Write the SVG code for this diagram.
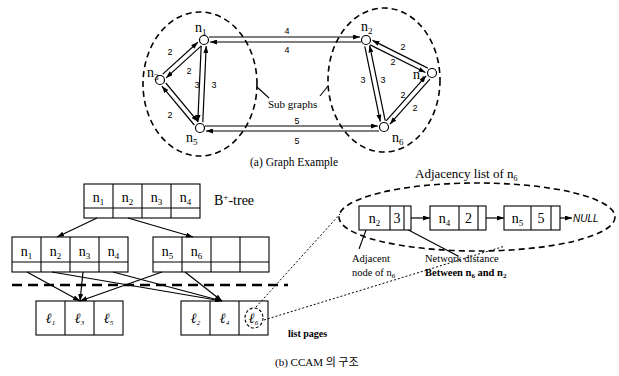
<svg xmlns="http://www.w3.org/2000/svg" width="619" height="376" viewBox="0 0 619 376">
<style>
.bg{fill:#fff}
.ln{stroke:#000;stroke-width:1.1;fill:none}
.ar{stroke:#000;stroke-width:1.2;fill:none;marker-end:url(#ah)}
.dash{stroke:#000;stroke-width:1.6;fill:none;stroke-dasharray:6 4}
.dot{stroke:#000;stroke-width:1;fill:none;stroke-dasharray:2 2}
.nd{fill:#fff;stroke:#000;stroke-width:1.2}
.box{fill:#fff;stroke:#000;stroke-width:1.1}
.w{font-family:"Liberation Sans",Arial,sans-serif;font-size:9px;fill:#000}
.s{font-family:"Liberation Serif","Times New Roman",serif;fill:#000}
.nl{font-family:"Liberation Serif","Times New Roman",serif;font-size:14px;fill:#000}
.lf{font-family:"Liberation Serif","DejaVu Serif",serif;font-size:14px;font-style:italic;fill:#000}
</style>
<defs>
<marker id="ah" markerUnits="userSpaceOnUse" markerWidth="7" markerHeight="5" refX="7" refY="2.5" orient="auto">
<path d="M0,0 L7,2.5 L0,5 z" fill="#000"/>
</marker>
</defs>
<rect class="bg" x="0" y="0" width="619" height="376"/>

<!-- (a) Graph -->
<g id="subgraph-left"><ellipse class="dash" cx="200" cy="84" rx="57" ry="72"/></g>
<g id="subgraph-right"><ellipse class="dash" cx="384" cy="80" rx="56" ry="72"/></g>

<g id="connectors-a">
<line class="ar" x1="209" y1="37" x2="360" y2="37"/>
<line class="ar" x1="361" y1="42" x2="210" y2="42"/>
<line class="ar" x1="205" y1="126" x2="378" y2="126"/>
<line class="ar" x1="379" y1="131" x2="206" y2="131"/>
<line class="ar" x1="162.7" y1="74.1" x2="197.9" y2="42.2"/>
<line class="ar" x1="201.3" y1="45.9" x2="166.1" y2="77.9"/>
<line class="ar" x1="165.8" y1="83" x2="198.1" y2="121.8"/>
<line class="ar" x1="194.3" y1="125" x2="161.9" y2="86.2"/>
<line class="ar" x1="201.2" y1="45.9" x2="197.8" y2="121.9"/>
<line class="ar" x1="202.8" y1="122.1" x2="206.2" y2="46.1"/>
<line class="ar" x1="364.8" y1="46.4" x2="380.3" y2="121.6"/>
<line class="ar" x1="385.2" y1="120.6" x2="369.6" y2="45.4"/>
<line class="ar" x1="427.8" y1="68.1" x2="372.5" y2="40.4"/>
<line class="ar" x1="370.2" y1="44.9" x2="425.5" y2="72.5"/>
<line class="ar" x1="386.1" y1="120.8" x2="426.1" y2="75.8"/>
<line class="ar" x1="429.9" y1="79.2" x2="389.9" y2="124.2"/>
<line class="ln" x1="257" y1="87" x2="269" y2="98"/>
<line class="ln" x1="328" y1="86" x2="320" y2="96"/>
</g>

<g id="weights">
<text class="w" x="287" y="34" text-anchor="middle">4</text>
<text class="w" x="287" y="53" text-anchor="middle">4</text>
<text class="w" x="297" y="124" text-anchor="middle">5</text>
<text class="w" x="297" y="144" text-anchor="middle">5</text>
<text class="w" x="170" y="55" text-anchor="middle">2</text>
<text class="w" x="189" y="74" text-anchor="middle">2</text>
<text class="w" x="170" y="118" text-anchor="middle">2</text>
<text class="w" x="197" y="88" text-anchor="middle">3</text>
<text class="w" x="214" y="88" text-anchor="middle">3</text>
<text class="w" x="363" y="83" text-anchor="middle">3</text>
<text class="w" x="383" y="83" text-anchor="middle">3</text>
<text class="w" x="403" y="50" text-anchor="middle">2</text>
<text class="w" x="393" y="65" text-anchor="middle">2</text>
<text class="w" x="403" y="98" text-anchor="middle">2</text>
<text class="w" x="415" y="111" text-anchor="middle">2</text>
</g>

<g id="n1"><circle class="nd" cx="204" cy="40" r="4.5"/><text class="nl" x="195" y="32" font-size="15">n<tspan font-size="9" dy="3">1</tspan></text></g>
<g id="n2"><circle class="nd" cx="366" cy="40" r="4.5"/><text class="nl" x="361" y="31" font-size="15">n<tspan font-size="9" dy="3">2</tspan></text></g>
<g id="n3"><circle class="nd" cx="160" cy="80" r="4.5"/><text class="nl" x="147" y="77" font-size="15">n<tspan font-size="9" dy="3">3</tspan></text></g>
<g id="n4"><circle class="nd" cx="432" cy="73" r="4.5"/><text class="nl" x="413" y="79" font-size="15">n<tspan font-size="9" dy="3">4</tspan></text></g>
<g id="n5"><circle class="nd" cx="200" cy="128" r="4.5"/><text class="nl" x="186" y="142" font-size="15">n<tspan font-size="9" dy="3">5</tspan></text></g>
<g id="n6"><circle class="nd" cx="384" cy="127" r="4.5"/><text class="nl" x="392" y="142" font-size="15">n<tspan font-size="9" dy="3">6</tspan></text></g>

<text class="s" x="268" y="108" font-size="11">Sub graphs</text>
<text class="s" x="250" y="166" font-size="11.5">(a) Graph Example</text>

<!-- (b) B+-tree -->
<g id="root">
<rect class="box" x="84" y="184" width="116" height="34"/>
<line class="ln" x1="84" y1="208" x2="200" y2="208"/>
<line class="ln" x1="113" y1="184" x2="113" y2="218"/>
<line class="ln" x1="142" y1="184" x2="142" y2="218"/>
<line class="ln" x1="171" y1="184" x2="171" y2="218"/>
<text class="nl" x="98.5" y="202" text-anchor="middle">n<tspan font-size="9" dy="3">1</tspan></text>
<text class="nl" x="127.5" y="202" text-anchor="middle">n<tspan font-size="9" dy="3">2</tspan></text>
<text class="nl" x="156.5" y="202" text-anchor="middle">n<tspan font-size="9" dy="3">3</tspan></text>
<text class="nl" x="185.5" y="202" text-anchor="middle">n<tspan font-size="9" dy="3">4</tspan></text>
</g>
<text class="s" x="214" y="205" font-size="14">B<tspan font-size="9" dy="-5">+</tspan><tspan dy="5">-tree</tspan></text>

<g id="child-left">
<rect class="box" x="12" y="237" width="116" height="35"/>
<line class="ln" x1="12" y1="262" x2="128" y2="262"/>
<line class="ln" x1="41" y1="237" x2="41" y2="272"/>
<line class="ln" x1="70" y1="237" x2="70" y2="272"/>
<line class="ln" x1="99" y1="237" x2="99" y2="272"/>
<text class="nl" x="26.5" y="256" text-anchor="middle">n<tspan font-size="9" dy="3">1</tspan></text>
<text class="nl" x="55.5" y="256" text-anchor="middle">n<tspan font-size="9" dy="3">2</tspan></text>
<text class="nl" x="84.5" y="256" text-anchor="middle">n<tspan font-size="9" dy="3">3</tspan></text>
<text class="nl" x="113.5" y="256" text-anchor="middle">n<tspan font-size="9" dy="3">4</tspan></text>
</g>
<g id="child-right">
<rect class="box" x="153" y="237" width="116" height="35"/>
<line class="ln" x1="153" y1="262" x2="269" y2="262"/>
<line class="ln" x1="182" y1="237" x2="182" y2="272"/>
<line class="ln" x1="211" y1="237" x2="211" y2="272"/>
<line class="ln" x1="240" y1="237" x2="240" y2="272"/>
<text class="nl" x="167.5" y="256" text-anchor="middle">n<tspan font-size="9" dy="3">5</tspan></text>
<text class="nl" x="196.5" y="256" text-anchor="middle">n<tspan font-size="9" dy="3">6</tspan></text>
</g>

<line x1="12" y1="285" x2="288" y2="285" stroke="#000" stroke-width="2.5" stroke-dasharray="10 6"/>

<g id="leaf-left">
<rect class="box" x="36" y="301" width="87" height="34"/>
<line class="ln" x1="65" y1="301" x2="65" y2="335"/>
<line class="ln" x1="94" y1="301" x2="94" y2="335"/>
<text class="lf" x="50.5" y="323" text-anchor="middle">ℓ<tspan font-size="7" dy="2">1</tspan></text>
<text class="lf" x="79.5" y="323" text-anchor="middle">ℓ<tspan font-size="7" dy="2">3</tspan></text>
<text class="lf" x="108.5" y="323" text-anchor="middle">ℓ<tspan font-size="7" dy="2">5</tspan></text>
</g>
<g id="leaf-right">
<rect class="box" x="181" y="301" width="87" height="34"/>
<line class="ln" x1="210" y1="301" x2="210" y2="335"/>
<line class="ln" x1="239" y1="301" x2="239" y2="335"/>
<text class="lf" x="195.5" y="323" text-anchor="middle">ℓ<tspan font-size="7" dy="2">2</tspan></text>
<text class="lf" x="224.5" y="323" text-anchor="middle">ℓ<tspan font-size="7" dy="2">4</tspan></text>
<text class="lf" x="253.5" y="323" text-anchor="middle">ℓ<tspan font-size="7" dy="2">6</tspan></text>
<ellipse cx="254" cy="318" rx="9" ry="10" fill="none" stroke="#000" stroke-width="1.1" stroke-dasharray="3 2"/>
</g>

<g id="connectors-b">
<line class="ar" x1="97" y1="218" x2="57" y2="237"/>
<line class="ar" x1="128" y1="218" x2="193" y2="237"/>
<line class="ar" x1="27" y1="272" x2="80" y2="301"/>
<line class="ar" x1="83" y1="272" x2="80" y2="301"/>
<line class="ar" x1="162" y1="272" x2="80" y2="301"/>
<line class="ar" x1="52" y1="272" x2="222" y2="301"/>
<line class="ar" x1="113" y1="272" x2="222" y2="301"/>
<line class="ar" x1="185" y1="272" x2="222" y2="301"/>
<line class="dot" x1="256" y1="307" x2="340" y2="214"/>
<line class="dot" x1="264" y1="320" x2="505" y2="246"/>
<line class="ln" x1="369" y1="222" x2="359" y2="249"/>
<line class="ln" x1="397" y1="224" x2="458" y2="256"/>
<line class="ar" x1="411" y1="218" x2="430" y2="218"/>
<line class="ar" x1="486" y1="218" x2="504" y2="218"/>
<line class="ar" x1="560" y1="218" x2="572" y2="218"/>
</g>
<text class="s" x="288" y="337" font-size="10" font-weight="bold">list pages</text>

<!-- adjacency list -->
<text class="s" x="415" y="178" font-size="13">Adjacency list of n<tspan font-size="8" dy="3">6</tspan></text>
<g id="adj-ellipse"><ellipse class="dash" cx="477" cy="217" rx="138" ry="34"/></g>
<g id="entry-n2">
<rect class="box" x="359" y="206" width="52" height="24"/>
<line class="ln" x1="390" y1="206" x2="390" y2="230"/>
<line class="ln" x1="404" y1="206" x2="404" y2="230"/>
<text class="nl" x="374.5" y="223" text-anchor="middle" font-size="15">n<tspan font-size="9" dy="3">2</tspan></text>
<text class="nl" x="397" y="223" text-anchor="middle" font-size="15">3</text>
</g>
<g id="entry-n4">
<rect class="box" x="430" y="206" width="56" height="24"/>
<line class="ln" x1="459" y1="206" x2="459" y2="230"/>
<line class="ln" x1="478" y1="206" x2="478" y2="230"/>
<text class="nl" x="444.5" y="223" text-anchor="middle" font-size="15">n<tspan font-size="9" dy="3">4</tspan></text>
<text class="nl" x="468.5" y="223" text-anchor="middle" font-size="15">2</text>
</g>
<g id="entry-n5">
<rect class="box" x="504" y="206" width="56" height="24"/>
<line class="ln" x1="531" y1="206" x2="531" y2="230"/>
<line class="ln" x1="551" y1="206" x2="551" y2="230"/>
<text class="nl" x="517.5" y="223" text-anchor="middle" font-size="15">n<tspan font-size="9" dy="3">5</tspan></text>
<text class="nl" x="541" y="223" text-anchor="middle" font-size="15">5</text>
</g>
<text x="573" y="222" font-family="Liberation Sans,Arial,sans-serif" font-size="10" font-style="italic">NULL</text>

<text class="s" x="352" y="262" font-size="10.5">Adjacent</text>
<text class="s" x="352" y="276" font-size="10.5">node of n<tspan font-size="7" dy="2">6</tspan></text>
<text class="s" x="425" y="262" font-size="10.5">Network distance</text>
<text class="s" x="425" y="276" font-size="10.5" font-weight="bold">Between n<tspan font-size="7" dy="2">6</tspan><tspan dy="-2"> and n</tspan><tspan font-size="7" dy="2">2</tspan></text>

<text x="275" y="366" font-family="Liberation Serif,'Noto Sans CJK KR',serif" font-size="11">(b) CCAM <tspan font-family="'Noto Sans CJK KR',sans-serif">의 구조</tspan></text>
</svg>
